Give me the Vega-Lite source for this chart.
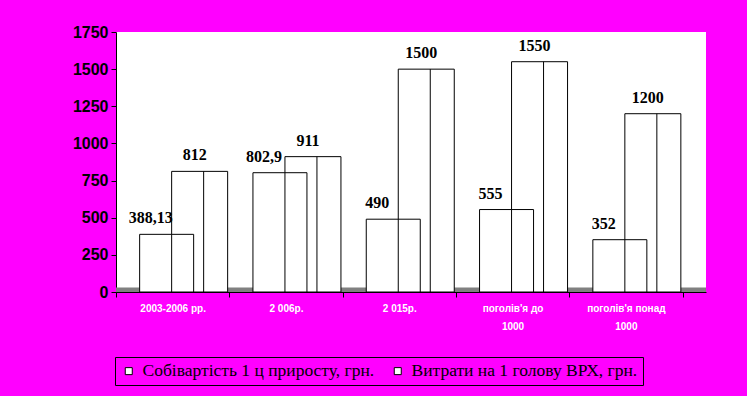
{
  "$schema": "https://vega.github.io/schema/vega-lite/v6.json",
  "width": 590,
  "height": 260,
  "autosize": "none",
  "padding": {"left": 116, "top": 32, "right": 41, "bottom": 104},
  "background": "#FF00FF",
  "config": {
    "view": {"fill": "white", "stroke": null},
    "locale": {"number": {"decimal": ",", "thousands": " ", "grouping": [3], "currency": ["", ""]}},
    "axisY": {
      "title": null, "grid": false, "domainColor": "black", "tickColor": "black", "tickSize": 5,
      "labelFont": "Liberation Sans", "labelFontSize": 16, "labelFontWeight": "bold",
      "labelColor": "black", "labelPadding": 3, "labelOverlap": false, "labelBound": false, "labelFlush": false
    }
  },
  "data": {
    "values": [
      {"category": "2003-2006 рр.", "series": "Собівартість 1 ц приросту, грн.", "value": 388.13},
      {"category": "2 006р.", "series": "Собівартість 1 ц приросту, грн.", "value": 802.9},
      {"category": "2 015р.", "series": "Собівартість 1 ц приросту, грн.", "value": 490},
      {"category": "поголів'я до 1000", "series": "Собівартість 1 ц приросту, грн.", "value": 555},
      {"category": "поголів'я понад 1000", "series": "Собівартість 1 ц приросту, грн.", "value": 352},
      {"category": "2003-2006 рр.", "series": "Витрати на 1 голову ВРХ, грн.", "value": 812},
      {"category": "2 006р.", "series": "Витрати на 1 голову ВРХ, грн.", "value": 911},
      {"category": "2 015р.", "series": "Витрати на 1 голову ВРХ, грн.", "value": 1500},
      {"category": "поголів'я до 1000", "series": "Витрати на 1 голову ВРХ, грн.", "value": 1550},
      {"category": "поголів'я понад 1000", "series": "Витрати на 1 голову ВРХ, грн.", "value": 1200}
    ]
  },
  "layer": [
    {
      "data": {"values": [{}]},
      "mark": {"type": "rect", "fill": "#808080"},
      "encoding": {
        "y": {
          "datum": 0, "type": "quantitative",
          "scale": {"domain": [0, 1750], "nice": false},
          "axis": {"title": null, "values": [0, 250, 500, 750, 1000, 1250, 1500, 1750], "format": "d", "labelOverlap": false}
        },
        "y2": {"datum": 30}
      }
    },
    {
      "transform": [{"filter": "datum.series == 'Витрати на 1 голову ВРХ, грн.'"}],
      "mark": {"type": "bar", "width": 56, "xOffset": 27, "stroke": "black", "strokeWidth": 1},
      "encoding": {
        "x": {
          "field": "category", "type": "nominal", "sort": null,
          "scale": {"paddingInner": 0, "paddingOuter": 0.1037, "align": 0},
          "axis": {
            "title": null, "labelAngle": 0, "tickBand": "extent",
            "domainColor": "black", "tickColor": "black", "tickSize": 5,
            "labelColor": "white", "labelFont": "Liberation Sans", "labelFontSize": 10,
            "labelFontWeight": "bold", "labelPadding": 6, "labelLineHeight": 18,
            "labelExpr": "indexof(datum.label,'поголів') == 0 ? [slice(datum.label,0,lastindexof(datum.label,' ')), '1000'] : datum.label"
          }
        },
        "y": {
          "field": "value", "type": "quantitative",
          "scale": {"domain": [0, 1750], "nice": false},
          "axis": {"title": null, "values": [0, 250, 500, 750, 1000, 1250, 1500, 1750], "format": "d", "labelOverlap": false}
        },
        "fill": {
          "field": "series", "type": "nominal",
          "scale": {"domain": ["Собівартість 1 ц приросту, грн.", "Витрати на 1 голову ВРХ, грн."], "range": ["white", "white"]},
          "legend": {
            "title": null, "orient": "none", "legendX": -1, "legendY": 325,
            "direction": "horizontal", "strokeColor": "black", "fillColor": "#FF00FF",
            "padding": 5, "labelFont": "Liberation Serif", "labelFontSize": 17.5,
            "labelColor": "black", "labelLimit": 0, "symbolType": "square", "symbolSize": 49,
            "symbolStrokeColor": "black", "symbolStrokeWidth": 1, "columnPadding": 14, "labelOffset": 5
          }
        }
      }
    },
    {
      "transform": [{"filter": "datum.series == 'Витрати на 1 голову ВРХ, грн.'"}],
      "mark": {"type": "rule", "xOffset": 31, "color": "black", "strokeWidth": 1},
      "encoding": {
        "x": {"field": "category", "type": "nominal", "sort": null},
        "y": {
          "field": "value", "type": "quantitative",
          "scale": {"domain": [0, 1750], "nice": false},
          "axis": {"title": null, "values": [0, 250, 500, 750, 1000, 1250, 1500, 1750], "format": "d", "labelOverlap": false}
        },
        "y2": {"datum": 0}
      }
    },
    {
      "transform": [{"filter": "datum.series == 'Собівартість 1 ц приросту, грн.'"}],
      "mark": {"type": "bar", "width": 54, "xOffset": -6, "stroke": "black", "strokeWidth": 1},
      "encoding": {
        "x": {"field": "category", "type": "nominal", "sort": null},
        "y": {
          "field": "value", "type": "quantitative",
          "scale": {"domain": [0, 1750], "nice": false},
          "axis": {"title": null, "values": [0, 250, 500, 750, 1000, 1250, 1500, 1750], "format": "d", "labelOverlap": false}
        },
        "fill": {"field": "series", "type": "nominal"}
      }
    },
    {
      "transform": [{"filter": "datum.series == 'Собівартість 1 ц приросту, грн.'"}],
      "mark": {"type": "rule", "xOffset": -1, "color": "black", "strokeWidth": 1},
      "encoding": {
        "x": {"field": "category", "type": "nominal", "sort": null},
        "y": {
          "field": "value", "type": "quantitative",
          "scale": {"domain": [0, 1750], "nice": false},
          "axis": {"title": null, "values": [0, 250, 500, 750, 1000, 1250, 1500, 1750], "format": "d", "labelOverlap": false}
        },
        "y2": {"datum": 0}
      }
    },
    {
      "transform": [{"filter": "datum.series == 'Собівартість 1 ц приросту, грн.'"}],
      "mark": {"type": "text", "xOffset": -22, "dy": -11, "baseline": "alphabetic", "font": "Liberation Serif", "fontSize": 16, "fontWeight": "bold", "color": "black"},
      "encoding": {
        "x": {"field": "category", "type": "nominal", "sort": null},
        "y": {
          "field": "value", "type": "quantitative",
          "scale": {"domain": [0, 1750], "nice": false},
          "axis": {"title": null, "values": [0, 250, 500, 750, 1000, 1250, 1500, 1750], "format": "d", "labelOverlap": false}
        },
        "text": {"field": "value", "type": "quantitative", "format": "~f"}
      }
    },
    {
      "transform": [{"filter": "datum.series == 'Витрати на 1 голову ВРХ, грн.'"}],
      "mark": {"type": "text", "xOffset": 22, "dy": -11, "baseline": "alphabetic", "font": "Liberation Serif", "fontSize": 16, "fontWeight": "bold", "color": "black"},
      "encoding": {
        "x": {"field": "category", "type": "nominal", "sort": null},
        "y": {
          "field": "value", "type": "quantitative",
          "scale": {"domain": [0, 1750], "nice": false},
          "axis": {"title": null, "values": [0, 250, 500, 750, 1000, 1250, 1500, 1750], "format": "d", "labelOverlap": false}
        },
        "text": {"field": "value", "type": "quantitative", "format": "~f"}
      }
    }
  ]
}
